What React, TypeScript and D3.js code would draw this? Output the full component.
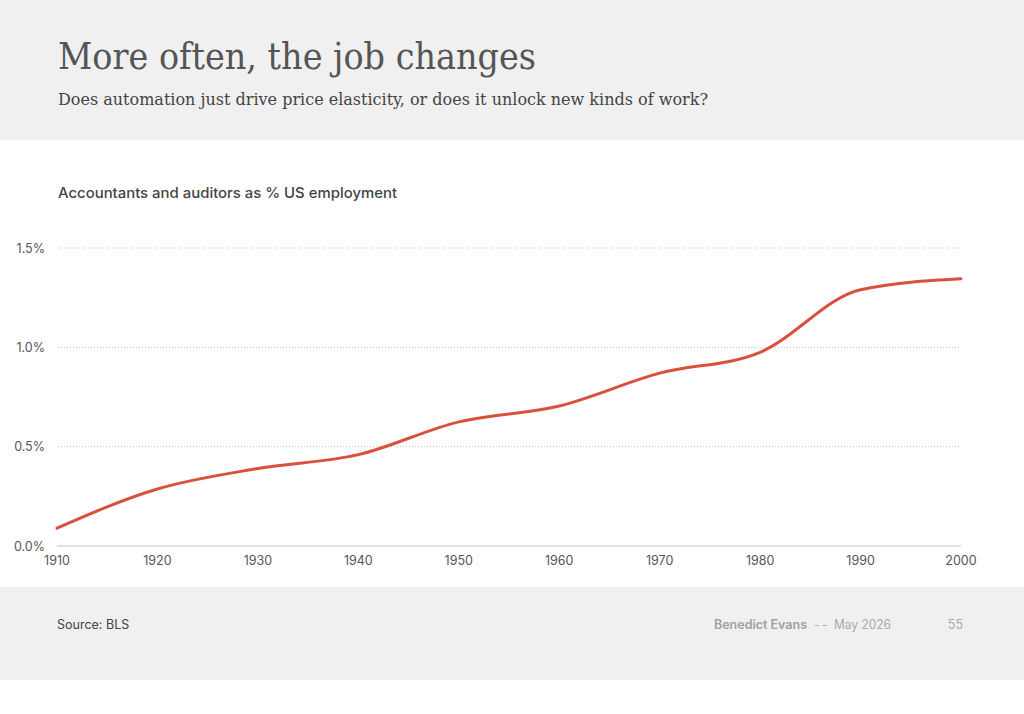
import React, { useEffect, useRef } from 'react';
import * as d3 from 'd3';

const years = [1910, 1920, 1930, 1940, 1950, 1960, 1970, 1980, 1990, 2000];
const shares = [0.09, 0.287, 0.39, 0.46, 0.625, 0.705, 0.87, 0.975, 1.29, 1.345];
const yTicks = [0, 0.5, 1.0, 1.5];
const xTicks = [1910, 1920, 1930, 1940, 1950, 1960, 1970, 1980, 1990, 2000];

const W = 1024;
const H = 714;
const SANS = 'Inter, "Noto Sans", sans-serif';
const SERIF = '"DejaVu Serif Condensed", "DejaVu Serif", serif';

const App = () => {
  const svgRef = useRef<SVGSVGElement>(null);

  useEffect(() => {
    const svg = d3.select(svgRef.current);
    svg.selectAll('*').remove();
    svg.attr('width', W).attr('height', H);

    // header and footer bands
    svg.append('rect').attr('x', 0).attr('y', 0).attr('width', W).attr('height', 140).attr('fill', '#f0f0f0');
    svg.append('rect').attr('x', 0).attr('y', 587).attr('width', W).attr('height', 93).attr('fill', '#f0f0f0');

    svg.append('text')
      .attr('x', 58).attr('y', 69)
      .attr('font-family', SERIF).attr('font-size', 37)
      .attr('fill', '#555')
      .attr('textLength', 478).attr('lengthAdjust', 'spacingAndGlyphs')
      .text('More often, the job changes');

    svg.append('text')
      .attr('x', 58).attr('y', 104.5)
      .attr('font-family', SERIF).attr('font-size', 16.5)
      .attr('fill', '#444')
      .attr('textLength', 650).attr('lengthAdjust', 'spacingAndGlyphs')
      .text('Does automation just drive price elasticity, or does it unlock new kinds of work?');

    svg.append('text')
      .attr('x', 58).attr('y', 198)
      .attr('font-family', SANS).attr('font-size', 14.5).attr('font-weight', 500)
      .attr('fill', '#444')
      .attr('textLength', 339).attr('lengthAdjust', 'spacingAndGlyphs')
      .text('Accountants and auditors as % US employment');

    const x = d3.scaleLinear().domain([1910, 2000]).range([57, 961]);
    const y = d3.scaleLinear().domain([0, 1.5]).range([546, 248]);

    // dotted gridlines
    svg.append('g')
      .selectAll('line')
      .data(yTicks.filter(t => t > 0))
      .enter()
      .append('line')
      .attr('x1', 58).attr('x2', 960)
      .attr('y1', d => y(d)).attr('y2', d => y(d))
      .attr('stroke', '#bdbdbd').attr('stroke-width', 1)
      .attr('stroke-dasharray', '1,2');

    svg.append('line')
      .attr('x1', 57).attr('x2', 961)
      .attr('y1', y(0)).attr('y2', y(0))
      .attr('stroke', '#c4c4c4').attr('stroke-width', 1.2);

    svg.append('g')
      .selectAll('text')
      .data(yTicks)
      .enter()
      .append('text')
      .attr('x', 45).attr('y', d => y(d) + 4.5)
      .attr('text-anchor', 'end')
      .attr('font-family', SANS).attr('font-size', 12.5)
      .attr('fill', '#555')
      .text(d => d.toFixed(1) + '%');

    svg.append('g')
      .selectAll('text')
      .data(xTicks)
      .enter()
      .append('text')
      .attr('x', d => x(d)).attr('y', 565)
      .attr('text-anchor', 'middle')
      .attr('font-family', SANS).attr('font-size', 12.5)
      .attr('fill', '#555')
      .text(d => String(d));

    const line = d3.line<number>()
      .x((d, i) => x(years[i]))
      .y(d => y(d))
      .curve(d3.curveMonotoneX);

    svg.append('path')
      .datum(shares)
      .attr('d', line)
      .attr('fill', 'none')
      .attr('stroke', '#d9503f')
      .attr('stroke-width', 3)
      .attr('stroke-linecap', 'round');

    // footer
    svg.append('text')
      .attr('x', 57).attr('y', 629)
      .attr('font-family', SANS).attr('font-size', 12.5)
      .attr('fill', '#444')
      .text('Source: BLS');

    svg.append('text')
      .attr('x', 714).attr('y', 629)
      .attr('font-family', SANS).attr('font-size', 12.5).attr('font-weight', 600)
      .attr('fill', '#a0a0a0')
      .attr('textLength', 93).attr('lengthAdjust', 'spacingAndGlyphs')
      .text('Benedict Evans');

    svg.append('text')
      .attr('x', 814).attr('y', 629)
      .attr('font-family', SANS).attr('font-size', 12.5)
      .attr('fill', '#aaa')
      .attr('letter-spacing', 2)
      .text('--');

    svg.append('text')
      .attr('x', 834).attr('y', 629)
      .attr('font-family', SANS).attr('font-size', 12.5)
      .attr('fill', '#aaa')
      .attr('textLength', 57).attr('lengthAdjust', 'spacingAndGlyphs')
      .text('May 2026');

    svg.append('text')
      .attr('x', 963).attr('y', 629)
      .attr('text-anchor', 'end')
      .attr('font-family', SANS).attr('font-size', 12.5)
      .attr('fill', '#aaa')
      .text('55');
  }, []);

  return (
    <div style={{ position: 'absolute', top: 0, left: 0, background: '#fff' }}>
      <svg ref={svgRef} style={{ display: 'block' }} />
    </div>
  );
};

export default App;
